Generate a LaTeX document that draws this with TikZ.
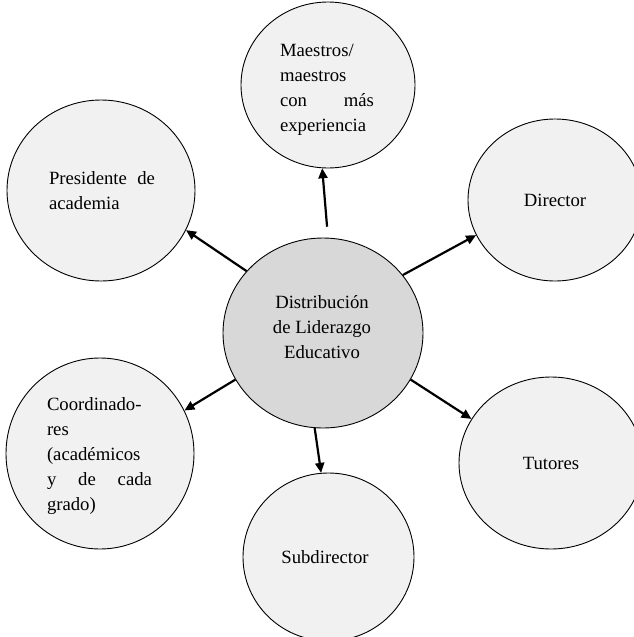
\documentclass[tikz,border=0pt]{standalone}
\usepackage{fontspec}
\setmainfont{Liberation Serif}
\usetikzlibrary{shapes.geometric,arrows.meta}
\definecolor{outerfill}{RGB}{241,241,241}
\definecolor{centerfill}{RGB}{216,216,216}
\begin{document}
\begin{tikzpicture}[x=1pt,y=-1pt,
  bubble/.style={ellipse, draw=black, line width=0.9pt, fill=outerfill, inner sep=0pt},
  hub/.style={bubble, fill=centerfill},
  lbl/.style={font=\fontsize{18.7}{25}\selectfont, inner sep=0pt},
  link/.style={line width=2.2pt, -{Triangle[length=10pt,width=9pt]}}]
\useasboundingbox (0,0) rectangle (634,637);
\clip (0,0) rectangle (634,637);
\node[hub, minimum width=200pt, minimum height=190pt] (c) at (323,333) {};
\node[bubble, minimum width=174pt, minimum height=166pt] (m) at (328,85) {};
\node[bubble, minimum width=188pt, minimum height=181pt] (p) at (101,190.5) {};
\node[bubble, minimum width=174pt, minimum height=162pt] (d) at (555,200) {};
\node[bubble, minimum width=188pt, minimum height=191pt] (k) at (100,453.5) {};
\node[bubble, minimum width=184pt, minimum height=172pt] (t) at (551,463) {};
\node[bubble, minimum width=171pt, minimum height=168pt] (s) at (328.5,557) {};
\draw[link, shorten <=11pt] (c.87) -- (m.266.6);
\draw[link] (c.141) -- (p.-25);
\draw[link] (c.36) -- (d.204);
\draw[link] (c.208.5) -- (k.27);
\draw[link] (c.-28) -- (t.151);
\draw[link] (c.265.8) -- (s.95.4);
\node[lbl, align=center] (ct) at (322,327) {Distribución\\de Liderazgo\\Educativo};
\node[lbl, text width=94pt, align=left] (mt) at (327,89.5) {Maestros/\\maestros\\con\hfill más\\experiencia};
\node[lbl, text width=106pt, align=left] (pt) at (102,191) {Presidente\hfill de\\academia};
\node[lbl, text width=105pt, align=left] (kt) at (99.5,456) {Coordinado-\\res\\(académicos\\y\hfill de\hfill cada\\grado)};
\node[lbl] (dt) at (555,200) {Director};
\node[lbl] (tt) at (551,463) {Tutores};
\node[lbl] (st) at (325,557) {Subdirector};
\end{tikzpicture}
\end{document}
